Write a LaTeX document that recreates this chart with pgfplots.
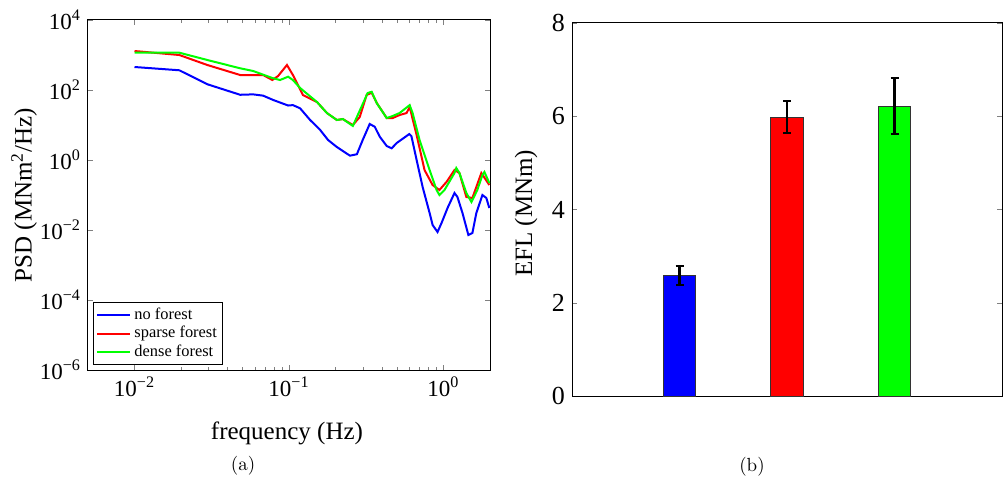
\documentclass[border=0pt]{standalone}
\usepackage{fontspec}
\setmainfont{Liberation Serif}
\usepackage{pgfplots}
\pgfplotsset{compat=1.18}

\newcommand{\lm}{\fontfamily{lmr}\selectfont}
\newcommand{\pw}[1]{10\textsuperscript{#1}}

\begin{document}
\begin{tikzpicture}
\useasboundingbox (0pt,0pt) rectangle (502pt,-240pt);

% (a) PSD
\begin{axis}[
  at={(44pt,-10pt)}, anchor=north west,
  scale only axis, width=201pt, height=175pt,
  xmode=log, ymode=log,
  xmin=0.005, xmax=2, ymin=1e-6, ymax=1e4,
  xtick={0.01,0.1,1},
  xticklabels={\pw{−2},\pw{−1},\pw{0}},
  ytick={1e-6,1e-4,1e-2,1,1e2,1e4},
  yticklabels={\pw{−6},\pw{−4},\pw{−2},\pw{0},\pw{2},\pw{4}},
  yminorticks=false,
  tick align=inside,
  major tick length=2.5pt, minor tick length=1.5pt,
  axis line style={line width=0.5pt},
  tick label style={font=\fontsize{11.5}{13}\selectfont},
  label style={font=\fontsize{12.5}{14}\selectfont},
  xlabel={frequency (Hz)},
  ylabel={PSD (MNm\textsuperscript{2}/Hz)},
  xlabel style={at={(axis description cs:0.495,-0.18)}, anchor=center},
  ylabel style={at={(axis description cs:-0.159,0.5)}, anchor=center},
  legend cell align=left,
  legend style={at={(axis description cs:0.0124,0.0143)}, anchor=south west,
    font=\fontsize{8.2}{9}\selectfont, draw=black, line width=0.5pt,
    inner xsep=1.5pt, inner ysep=1pt, row sep=-1pt,
    nodes={inner sep=1.5pt}},
  legend image code/.code={\draw[#1] (0pt,0pt) -- (16.5pt,0pt);},
]
\addplot[blue, line width=1pt] coordinates {
(0.01,454) (0.0195,366) (0.0296,146) (0.0483,73) (0.0586,75) (0.068,69)
(0.0789,52) (0.0987,36) (0.106,37) (0.118,30) (0.137,13.9) (0.158,7.5)
(0.179,3.73) (0.204,2.35) (0.248,1.33) (0.275,1.46) (0.300,3.73) (0.333,10.7)
(0.359,8.9) (0.387,4.6) (0.429,2.51) (0.462,2.16) (0.498,3.06) (0.60,5.5)
(0.62,4.8) (0.670,1.0) (0.733,0.169) (0.813,0.0306) (0.850,0.0139) (0.915,0.00877)
(0.971,0.0158) (1.062,0.0425) (1.178,0.114) (1.231,0.0877) (1.327,0.0306)
(1.449,0.0072) (1.538,0.0082) (1.632,0.0306) (1.786,0.1) (1.894,0.082) (1.98,0.0425)
};
\addlegendentry{no forest}
\addplot[red, line width=1pt] coordinates {
(0.01,1300) (0.0195,1000) (0.0296,518) (0.0483,268) (0.068,268) (0.078,193)
(0.085,251) (0.097,518) (0.106,268) (0.123,72) (0.152,45) (0.176,22)
(0.204,13.9) (0.223,14.8) (0.259,10) (0.287,16.9) (0.318,72) (0.343,84)
(0.370,42.5) (0.429,15.8) (0.469,15.8) (0.52,19.3) (0.577,22) (0.604,32.7)
(0.670,5.18) (0.754,0.518) (0.850,0.193) (0.941,0.139) (1.045,0.235) (1.178,0.518)
(1.268,0.425) (1.406,0.0877) (1.538,0.082) (1.758,0.425) (1.98,0.193)
};
\addlegendentry{sparse forest}
\addplot[green, line width=1pt] coordinates {
(0.01,1164) (0.0195,1164) (0.0296,720) (0.0483,417) (0.0586,349) (0.078,220)
(0.0875,193) (0.0987,240) (0.106,193) (0.118,114) (0.152,45) (0.176,22)
(0.204,13.9) (0.223,14.8) (0.259,9.4) (0.323,82) (0.343,89) (0.370,42)
(0.429,15.8) (0.469,18.1) (0.52,22) (0.604,37) (0.631,22) (0.700,3.73)
(0.813,0.518) (0.902,0.139) (0.941,0.1) (1.015,0.139) (1.178,0.425) (1.21,0.59)
(1.268,0.425) (1.406,0.114) (1.517,0.063) (1.656,0.139) (1.786,0.373) (1.84,0.454)
(1.98,0.22)
};
\addlegendentry{dense forest}
\end{axis}

% (b) EFL
\begin{axis}[
  at={(286pt,-11.5pt)}, anchor=north west,
  scale only axis, width=215pt, height=186.5pt,
  xmin=0, xmax=4, ymin=0, ymax=8,
  xtick=\empty, ytick={0,2,4,6,8},
  tick align=inside, major tick length=2.5pt,
  axis line style={line width=0.5pt},
  /pgf/number format/assume math mode=true,
  tick label style={font=\fontsize{13}{15}\selectfont},
  label style={font=\fontsize{12.5}{14}\selectfont},
  ylabel={EFL (MNm)},
  ylabel style={at={(axis description cs:-0.107,0.49)}, anchor=center},
  bar width=0.3,
]
\addplot[ybar, bar shift=0pt, fill=blue, draw=black!80, line width=0.4pt,
  error bars/.cd, y dir=both, y explicit,
  error bar style={black, line width=1.1pt},
  error mark options={rotate=90, black, mark size=2pt, line width=1pt}]
  coordinates {(1,2.58) += (0,0.20) -= (0,0.21)};
\addplot[ybar, bar shift=0pt, fill=red, draw=black!80, line width=0.4pt,
  error bars/.cd, y dir=both, y explicit,
  error bar style={black, line width=1.1pt},
  error mark options={rotate=90, black, mark size=2pt, line width=1pt}]
  coordinates {(2,5.97) += (0,0.36) -= (0,0.34)};
\addplot[ybar, bar shift=0pt, fill=green, draw=black!80, line width=0.4pt,
  error bars/.cd, y dir=both, y explicit,
  error bar style={black, line width=1.1pt},
  error mark options={rotate=90, black, mark size=2pt, line width=1pt}]
  coordinates {(3,6.22) += (0,0.61) -= (0,0.60)};
\end{axis}

\node[font=\lm\fontsize{9.5}{11}\selectfont] at (121.5pt,-233pt) {(a)};
\node[font=\lm\fontsize{9.5}{11}\selectfont] at (376pt,-233.5pt) {(b)};
\end{tikzpicture}
\end{document}
